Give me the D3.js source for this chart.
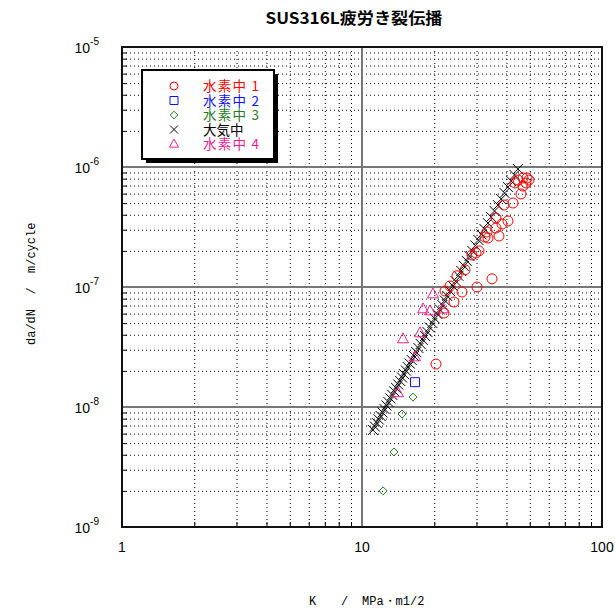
<head>
  <meta charset="utf-8">
  <title>SUS316L</title>
  <style>
    body { margin: 0; background: white; }
    svg text { font-family: "Liberation Sans", Arial, sans-serif; }
    svg .mono { font-family: "Liberation Mono", "DejaVu Sans Mono", monospace; font-size: 12px; white-space: pre; }
    svg .jp { font-family: "Noto Sans CJK JP", sans-serif; }
    svg .minor { stroke: black; stroke-width: 1; stroke-dasharray: 1,3; }
    svg .major { stroke: #777; stroke-width: 2; }
  </style>
</head>
<body>
  <div id="chart"></div>
  <script src="https://cdn.jsdelivr.net/npm/d3@7"></script>
  <script>
    // --- data ---
    const seriesNames = ["水素中 1", "水素中 2", "水素中 3", "大気中", "水素中 4"];
    const seriesColors = ["#ff0000", "#1010ff", "#1f7a1f", "#000000", "#f0208f"];

    const h2_1K = [20.34, 21.96, 24.16, 22.17, 23.26, 26.10, 30.15, 34.81, 24.87, 26.87,
                   28.73, 29.85, 30.72, 32.55, 33.50, 33.18, 36.16, 37.22, 38.31, 40.58,
                   36.16, 39.06, 42.58, 45.97, 46.86, 43.41, 44.67, 46.86, 48.24, 49.63, 48.70];
    const h2_1R = [2.28e-8, 6.07e-8, 7.50e-8, 9.26e-8, 1.02e-7, 9.08e-8, 1.00e-7, 1.17e-7, 1.24e-7, 1.39e-7,
                   1.85e-7, 1.92e-7, 2.00e-7, 2.61e-7, 2.56e-7, 2.87e-7, 3.10e-7, 2.66e-7, 3.35e-7, 3.55e-7,
                   3.76e-7, 4.82e-7, 5.01e-7, 5.96e-7, 6.94e-7, 7.36e-7, 7.79e-7, 8.10e-7, 7.36e-7, 7.79e-7, 8.10e-7];

    const h2_2K = [16.63];
    const h2_2R = [1.61e-8];

    const h2_3K = [16.31, 14.68, 13.59, 12.24];
    const h2_3R = [1.21e-8, 8.74e-9, 4.22e-9, 2.00e-9];

    const airK = [11.10, 11.31, 11.52, 11.74, 11.96, 12.18, 12.41, 12.65, 12.89, 13.13,
                  13.38, 13.63, 13.88, 14.15, 14.41, 14.69, 14.96, 15.24, 15.53, 15.82,
                  16.12, 16.47, 16.82, 17.18, 17.56, 17.93, 18.32, 18.72, 19.17, 19.63,
                  20.11, 20.60, 21.10, 21.61, 22.13, 22.67, 23.28, 23.91, 24.56, 25.22,
                  25.91, 26.60, 27.32, 28.06, 28.82, 29.68, 30.56, 31.47, 32.40, 33.46,
                  34.54, 35.67, 36.83, 38.02, 39.26, 40.53, 41.85, 43.21, 44.61];
    const airR = [6.43e-9, 6.88e-9, 7.36e-9, 7.87e-9, 8.41e-9, 9.00e-9, 9.62e-9, 1.03e-8, 1.10e-8, 1.18e-8,
                  1.26e-8, 1.35e-8, 1.44e-8, 1.54e-8, 1.65e-8, 1.76e-8, 1.88e-8, 2.01e-8, 2.15e-8, 2.30e-8,
                  2.46e-8, 2.66e-8, 2.87e-8, 3.10e-8, 3.35e-8, 3.62e-8, 3.91e-8, 4.22e-8, 4.60e-8, 5.01e-8,
                  5.46e-8, 5.96e-8, 6.49e-8, 7.08e-8, 7.72e-8, 8.41e-8, 9.26e-8, 1.02e-7, 1.12e-7, 1.24e-7,
                  1.36e-7, 1.50e-7, 1.65e-7, 1.81e-7, 2.00e-7, 2.22e-7, 2.46e-7, 2.74e-7, 3.04e-7, 3.41e-7,
                  3.83e-7, 4.30e-7, 4.82e-7, 5.41e-7, 6.07e-7, 6.81e-7, 7.64e-7, 8.58e-7, 9.62e-7];

    const h2_4K = [19.76, 17.96, 19.20, 21.76, 17.45, 14.82, 16.63, 14.13];
    const h2_4R = [8.74e-8, 6.56e-8, 6.31e-8, 6.56e-8, 4.14e-8, 3.69e-8, 2.61e-8, 1.31e-8];

    const xTicks = [1, 10, 100];
    const yTickExp = [-9, -8, -7, -6, -5];

    const title = "SUS316L疲労き裂伝播";

    // --- layout ---
    const width = 615, height = 615;
    const plotL = 122, plotR = 602, plotT = 47, plotB = 527;

    let x = d3.scaleLog().domain([1, 100]).range([plotL, plotR]);
    let y = d3.scaleLog().domain([1e-9, 1e-5]).range([plotB, plotT]);

    let svg = d3.select("#chart").append("svg")
      .attr("width", width).attr("height", height);

    // minor positions: 2..9 in every decade
    let xMinor = [], yMinor = [];
    for (let d = 1; d <= 10; d *= 10)
      for (let m = 2; m <= 9; m++) xMinor.push(m * d);
    for (let e = -9; e < -5; e++)
      for (let m = 2; m <= 9; m++) yMinor.push(m * Math.pow(10, e));

    let grid = svg.append("g");
    grid.selectAll(".vx").data(xMinor).enter().append("line")
      .attr("class", "minor")
      .attr("x1", d => x(d) + 0.5).attr("x2", d => x(d) + 0.5)
      .attr("y1", plotT).attr("y2", plotB);
    grid.selectAll(".hy").data(yMinor).enter().append("line")
      .attr("class", "minor")
      .attr("y1", d => y(d) + 0.5).attr("y2", d => y(d) + 0.5)
      .attr("x1", plotL).attr("x2", plotR);

    grid.selectAll(".vmaj").data([10]).enter().append("line")
      .attr("class", "major")
      .attr("x1", d => x(d)).attr("x2", d => x(d))
      .attr("y1", plotT).attr("y2", plotB);
    grid.selectAll(".hmaj").data([1e-8, 1e-7, 1e-6]).enter().append("line")
      .attr("class", "major")
      .attr("y1", d => y(d)).attr("y2", d => y(d))
      .attr("x1", plotL).attr("x2", plotR);

    // inward tick marks on the frame
    svg.append("g").attr("transform", `translate(0,${plotB})`)
      .call(d3.axisBottom(x).tickValues(xMinor).tickSize(-5).tickFormat(""))
      .call(g => g.select(".domain").remove());
    svg.append("g").attr("transform", `translate(${plotL},0)`)
      .call(d3.axisLeft(y).tickValues(yMinor).tickSize(-5).tickFormat(""))
      .call(g => g.select(".domain").remove());

    svg.append("rect")
      .attr("x", plotL).attr("y", plotT)
      .attr("width", plotR - plotL).attr("height", plotB - plotT)
      .attr("fill", "none").attr("stroke", "#111").attr("stroke-width", 2);

    // tick labels
    svg.selectAll(".xlab").data(xTicks).enter().append("text")
      .attr("x", d => x(d)).attr("y", 552)
      .attr("text-anchor", "middle").attr("font-size", 14)
      .text(d => d);

    let yl = svg.selectAll(".ylab").data(yTickExp).enter().append("text")
      .attr("x", 99).attr("y", d => y(Math.pow(10, d)) + 6)
      .attr("text-anchor", "end").attr("font-size", 14);
    yl.append("tspan").text("10");
    yl.append("tspan").attr("dy", -8).attr("font-size", 10).text(d => d);

    // axis titles
    svg.append("text").attr("class", "mono")
      .attr("transform", "translate(35,345) rotate(-90)")
      .text("da/dN  /  m/cycle");

    svg.append("text").attr("class", "mono").attr("x", 309).attr("y", 605).text("K");
    svg.append("text").attr("class", "mono").attr("x", 341).attr("y", 605).text("/");
    svg.append("text").attr("class", "mono").attr("x", 362).attr("y", 605).text("MPa・m1/2");

    svg.append("text").attr("class", "jp")
      .attr("x", 354).attr("y", 24)
      .attr("text-anchor", "middle").attr("font-size", 16).attr("font-weight", "bold")
      .attr("textLength", 177).attr("lengthAdjust", "spacingAndGlyphs")
      .text(title);

    // marker shapes
    const shapes = [
      r => `M${r},0A${r},${r} 0 1,1 ${-r},0A${r},${r} 0 1,1 ${r},0Z`,
      r => `M${-r},${-r}H${r}V${r}H${-r}Z`,
      r => `M0,${-r}L${r},0L0,${r}L${-r},0Z`,
      r => `M${-r},${-r}L${r},${r}M${-r},${r}L${r},${-r}`,
      r => `M0,${-r * 1.1}L${r},${r * 0.7}L${-r},${r * 0.7}Z`
    ];
    const plotSize = [5, 4.5, 4, 5, 5.5];
    const legendSize = [4, 4, 3.8, 4, 4.5];

    const series = [
      [h2_1K, h2_1R], [h2_2K, h2_2R], [h2_3K, h2_3R], [airK, airR], [h2_4K, h2_4R]
    ];

    let plot = svg.append("g");
    // draw order: air first, then hydrogen series on top
    [3, 4, 0, 2, 1].forEach(i => {
      let [ks, rs] = series[i];
      plot.selectAll(".s" + i).data(ks.map((k, j) => [k, rs[j]])).enter().append("path")
        .attr("transform", d => `translate(${x(d[0])},${y(d[1])})`)
        .attr("d", shapes[i](plotSize[i]))
        .attr("fill", "none")
        .attr("stroke", seriesColors[i])
        .attr("stroke-width", 1);
    });

    // legend
    let legend = svg.append("g");
    legend.append("rect").attr("x", 146).attr("y", 74).attr("width", 132).attr("height", 89)
      .attr("fill", "black");
    legend.append("rect").attr("x", 142).attr("y", 70).attr("width", 132).attr("height", 89)
      .attr("fill", "white").attr("stroke", "black").attr("stroke-width", 2);

    const rowY = d3.scaleLinear().domain([0, 4]).range([86, 144]);
    seriesNames.forEach((name, i) => {
      legend.append("path")
        .attr("transform", `translate(174,${rowY(i)})`)
        .attr("d", shapes[i](legendSize[i]))
        .attr("fill", "none").attr("stroke", seriesColors[i]);
      let t = legend.append("text").attr("class", "jp")
        .attr("x", 203).attr("y", rowY(i) + 5)
        .attr("font-size", 13.5).attr("fill", seriesColors[i])
        .text(name);
      if (name.includes(" ")) t.attr("textLength", 56).attr("lengthAdjust", "spacing");
    });
  </script>
</body>
